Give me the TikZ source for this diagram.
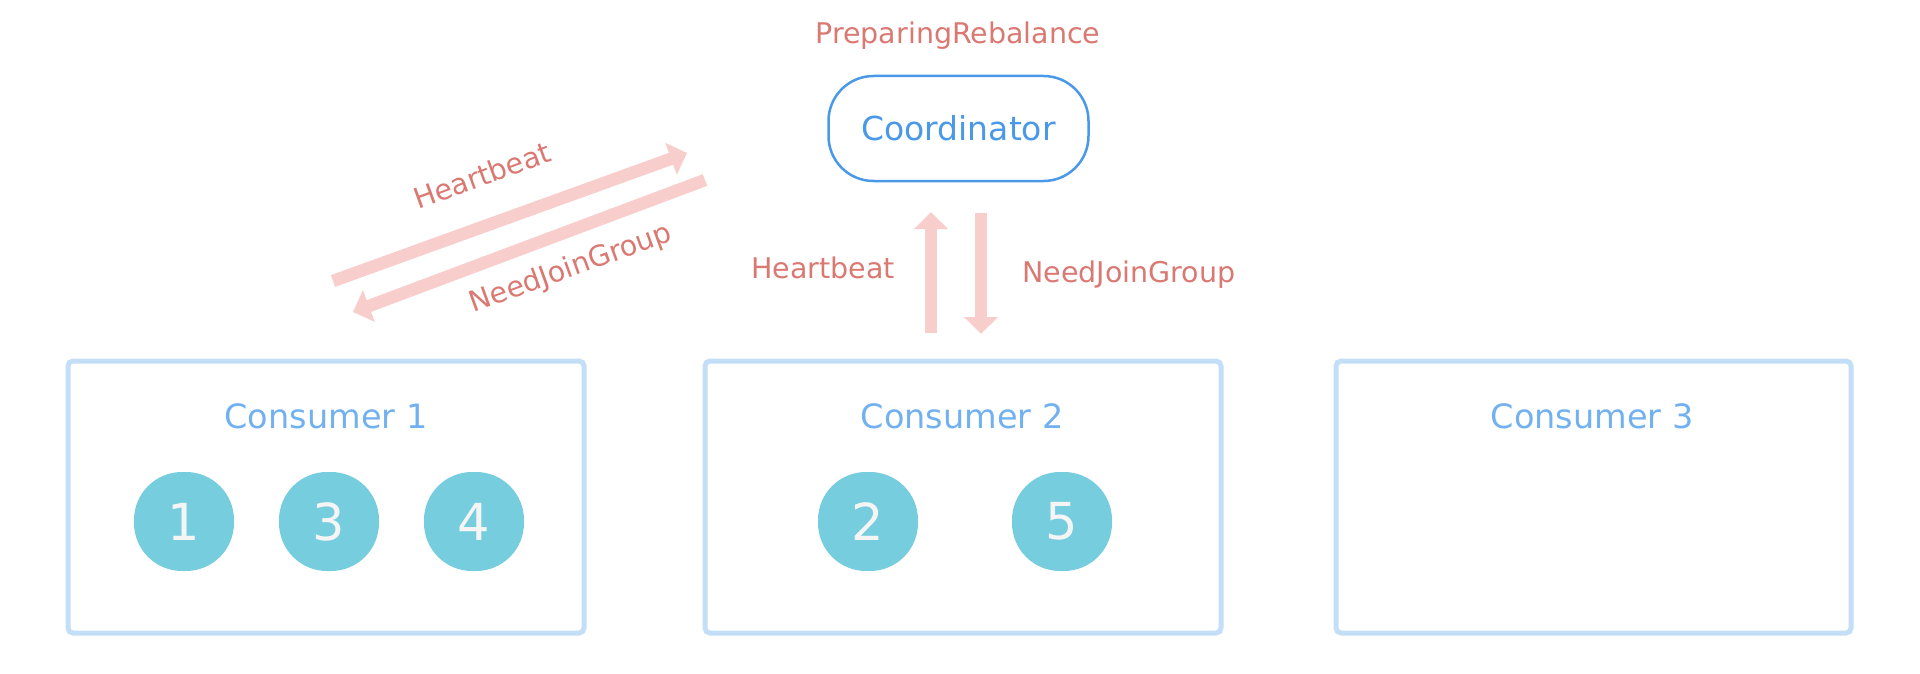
\documentclass[tikz,border=0pt]{standalone}
\usepackage{fontspec}
\setmainfont{DejaVu Sans}
\usetikzlibrary{arrows.meta}
\definecolor{pinkarrow}{HTML}{F8CECC}
\definecolor{redtext}{HTML}{DA7872}
\definecolor{coordblue}{HTML}{4A98E8}
\definecolor{boxblue}{HTML}{C3DEF7}
\definecolor{consumertext}{HTML}{72B1F0}
\definecolor{partfill}{HTML}{76CDDE}
\definecolor{digitcol}{HTML}{F5F5F5}
\tikzset{
  flow/.style={draw=pinkarrow, line width=12.5pt, -{Triangle[width=33pt,length=17pt]}},
  lbl/.style={text=redtext, font=\fontsize{28.5}{32}\selectfont, inner sep=0pt, anchor=base},
  dlbl/.style={text=redtext, font=\fontsize{28.5}{32}\selectfont, inner sep=0pt, rotate=20},
  consumerbox/.style={draw=boxblue, line width=5pt, rounded corners=5pt},
  consumerlbl/.style={text=consumertext, font=\fontsize{33.5}{38}\selectfont, inner sep=0pt, anchor=base},
  part/.style={fill=partfill, rounded corners=48pt, minimum width=100pt, minimum height=99pt, inner sep=0pt,
    text=digitcol, font=\fontsize{51}{56}\selectfont},
  coordbox/.style={draw=coordblue, line width=2.5pt, rounded corners=45pt, minimum width=260pt, minimum height=105pt,
    inner sep=0pt, text=coordblue, font=\fontsize{33}{36}\selectfont}
}
\begin{document}
\begin{tikzpicture}[x=1pt,y=-1pt]
\useasboundingbox (0,0) rectangle (1920,674);
% Coordinator
\node[lbl] (state) at (958,44) {PreparingRebalance};
\node[coordbox] (coord) at (958.5,128.5) {Coordinator};
% Consumer boxes
\draw[consumerbox] (68,361) rectangle (584,633);
\draw[consumerbox] (705,361) rectangle (1221,633);
\draw[consumerbox] (1336,361) rectangle (1851,633);
\node[consumerlbl] (c1) at (326,428) {Consumer 1};
\node[consumerlbl] (c2) at (962,428) {Consumer 2};
\node[consumerlbl] (c3) at (1592,428) {Consumer 3};
% partitions
\node[part] (p1) at (184,521.5) {1};
\node[part] (p3) at (329,521.5) {3};
\node[part] (p4) at (474,521.5) {4};
\node[part] (p2) at (868,521.5) {2};
\node[part] (p5) at (1062,521.5) {5};
% vertical arrows
\coordinate (upA) at (931,333);
\coordinate (upB) at (931,212);
\coordinate (dnA) at (981,213);
\coordinate (dnB) at (981,334);
\draw[flow] (upA) -- (upB);
\draw[flow] (dnA) -- (dnB);
\node[lbl] (hbv) at (823,278) {Heartbeat};
\node[lbl] (njv) at (1129,282) {NeedJoinGroup};
% diagonal arrows
\coordinate (dA) at (333,281);
\coordinate (dB) at (687,153);
\coordinate (eA) at (705,180);
\coordinate (eB) at (353,312);
\draw[flow] (dA) -- (dB);
\draw[flow] (eA) -- (eB);
\node[dlbl] (hbd) at (482,175) {Heartbeat};
\node[dlbl] (njd) at (571,269) {NeedJoinGroup};
\end{tikzpicture}
\end{document}
